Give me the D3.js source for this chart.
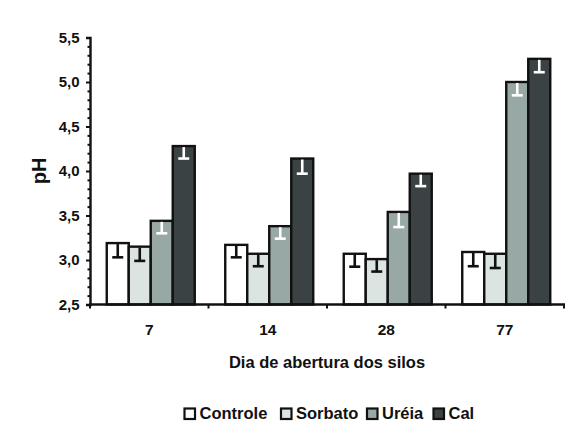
<!DOCTYPE html>
<html>
<head>
<meta charset="utf-8">
<script src="https://cdn.jsdelivr.net/npm/d3@7"></script>
<style>
  html, body { margin: 0; padding: 0; background: #fff; }
  text { font-family: "Liberation Sans", Arial, sans-serif; font-weight: bold; fill: #111; }
</style>
</head>
<body>
<svg id="chart" width="585" height="439"></svg>
<script>
const categories = ["7", "14", "28", "77"];
const series = ["Controle", "Sorbato", "Uréia", "Cal"];
const controle = [3.19, 3.17, 3.07, 3.09];
const sorbato  = [3.15, 3.07, 3.01, 3.07];
const ureia    = [3.44, 3.38, 3.54, 5.00];
const cal      = [4.28, 4.14, 3.97, 5.26];
const errControle = [0.16, 0.14, 0.145, 0.16];
const errSorbato  = [0.16, 0.14, 0.14, 0.16];
const errUreia    = [0.14, 0.14, 0.17, 0.15];
const errCal      = [0.14, 0.17, 0.14, 0.15];
const yTicks = [2.5, 3.0, 3.5, 4.0, 4.5, 5.0, 5.5];
const colors = ["#ffffff", "#dce4e2", "#98a8a5", "#3a4244"];
const errColors = ["#111111", "#111111", "#ffffff", "#ffffff"];

const values = [controle, sorbato, ureia, cal];
const errs = [errControle, errSorbato, errUreia, errCal];

const svg = d3.select("#chart");
const x0 = 90, x1 = 564, yTop = 37.5, yBot = 304.5;

const x = d3.scaleBand().domain(categories).range([x0, x1]).paddingInner(0).paddingOuter(0);
const inner = d3.scaleBand().domain(series).range([0, 88]).padding(0);
const y = d3.scaleLinear().domain([2.5, 5.5]).range([yBot, yTop]);
const groupOffset = (x.bandwidth() - 88) / 2 + 1.5;

// bars
const g = svg.append("g");
series.forEach((s, si) => {
  categories.forEach((c, ci) => {
    const bx = x(c) + groupOffset + inner(s);
    const v = values[si][ci];
    g.append("rect")
      .attr("x", bx).attr("y", y(v))
      .attr("width", inner.bandwidth()).attr("height", y(2.5) - y(v))
      .attr("fill", colors[si]).attr("stroke", "#111").attr("stroke-width", 2.4);
    const cx = bx + inner.bandwidth() / 2;
    const lo = v - errs[si][ci];
    g.append("line")
      .attr("x1", cx).attr("x2", cx).attr("y1", y(v) + 1).attr("y2", y(lo))
      .attr("stroke", errColors[si]).attr("stroke-width", 2.6);
    g.append("line")
      .attr("x1", cx - 5.5).attr("x2", cx + 5.5).attr("y1", y(lo)).attr("y2", y(lo))
      .attr("stroke", errColors[si]).attr("stroke-width", 2.6);
  });
});

// y axis
const yAxis = d3.axisLeft(y).tickValues(yTicks).tickSize(4).tickPadding(6.5)
  .tickFormat(d => d3.format(".1f")(d).replace(".", ","));
const ya = svg.append("g").attr("transform", `translate(${x0},0)`).call(yAxis);
ya.select(".domain").attr("stroke", "#111").attr("stroke-width", 2.4);
ya.selectAll(".tick line").attr("stroke", "#111").attr("stroke-width", 2);
ya.selectAll(".tick text").attr("font-size", 15).attr("font-family", "Liberation Sans, Arial, sans-serif").attr("font-weight", "bold").attr("fill", "#111");
// minor ticks
const minor = d3.range(2.6, 5.5, 0.1).filter(v => Math.abs(v * 2 - Math.round(v * 2)) > 0.01);
const ym = svg.append("g").attr("transform", `translate(${x0},0)`).call(d3.axisLeft(y).tickValues(minor).tickSize(2.5).tickFormat(""));
ym.select(".domain").remove();
ym.selectAll(".tick line").attr("stroke", "#111").attr("stroke-width", 2);

// x axis
const xa = svg.append("g").attr("transform", `translate(0,${yBot})`);
xa.append("line").attr("x1", x0 - 1).attr("x2", x1 + 1).attr("y1", 0).attr("y2", 0)
  .attr("stroke", "#111").attr("stroke-width", 2.4);
const xTickPos = categories.map(c => x(c)).concat([x1]);
xTickPos.forEach(p => {
  xa.append("line").attr("x1", p).attr("x2", p).attr("y1", 0).attr("y2", 4)
    .attr("stroke", "#111").attr("stroke-width", 2);
});
categories.forEach(c => {
  xa.append("text").attr("x", x(c) + x.bandwidth() / 2).attr("y", 30)
    .attr("text-anchor", "middle").attr("font-size", 15.5).text(c);
});

// axis titles
svg.append("text").attr("x", 327).attr("y", 367.5).attr("text-anchor", "middle")
  .attr("font-size", 16.5).text("Dia de abertura dos silos");
svg.append("text").attr("transform", "translate(46,171) rotate(-90)")
  .attr("text-anchor", "middle").attr("font-size", 20).text("pH");

// legend
const legX = [183.5, 280, 366, 432.5];
series.forEach((s, si) => {
  svg.append("rect").attr("x", legX[si] + 1).attr("y", 408.5).attr("width", 10.5).attr("height", 10.5)
    .attr("fill", colors[si]).attr("stroke", "#111").attr("stroke-width", 2.2);
  svg.append("text").attr("x", legX[si] + 16).attr("y", 418.5).attr("font-size", 16.5).text(s);
});
</script>
</body>
</html>
